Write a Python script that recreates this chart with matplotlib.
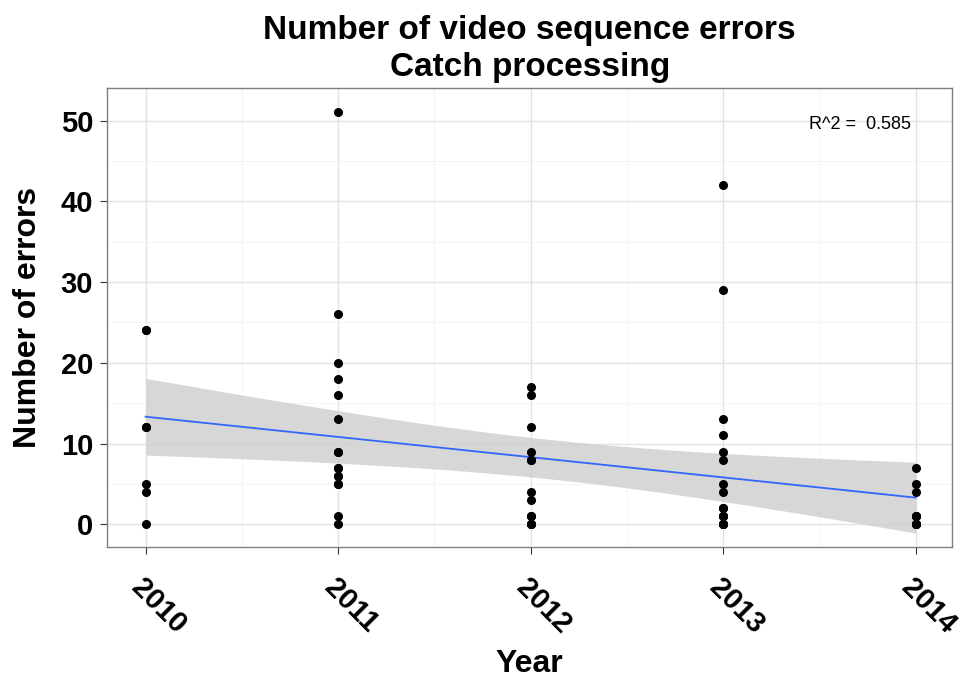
import matplotlib
matplotlib.use("Agg")
import matplotlib.pyplot as plt
import numpy as np

plt.rcParams['font.family'] = ['Liberation Sans', 'DejaVu Sans']

# errors per year (repeated values sit on top of each other)
years = [2010, 2011, 2012, 2013, 2014]
errors_2010 = [24, 24, 12, 12, 5, 4, 0]
errors_2011 = [51, 26, 20, 18, 16, 13, 9, 9, 7, 7, 6, 6, 5, 5, 1, 0]
errors_2012 = [17, 16, 12, 9, 8, 8, 4, 3, 1, 1, 0, 0, 0]
errors_2013 = [42, 29, 13, 11, 9, 8, 5, 4, 2, 2, 1, 1, 1, 0, 0, 0, 0]
errors_2014 = [7, 5, 4, 1, 1, 1, 0, 0, 0, 0]
r2_label = "R^2 =  0.585"

groups = [errors_2010, errors_2011, errors_2012, errors_2013, errors_2014]
x = np.concatenate([[yr] * len(g) for yr, g in zip(years, groups)]).astype(float)
y = np.concatenate(groups).astype(float)

# linear fit with 95% confidence band
n = len(x)
b1, b0 = np.polyfit(x, y, 1)
resid = y - (b0 + b1 * x)
s = np.sqrt(np.sum(resid ** 2) / (n - 2))
xs = np.linspace(years[0], years[-1], 80)
fit = b0 + b1 * xs
se = s * np.sqrt(1 / n + (xs - x.mean()) ** 2 / np.sum((x - x.mean()) ** 2))
t = 2.0
lo, hi = fit - t * se, fit + t * se

fig = plt.figure(figsize=(9.64, 6.79), dpi=100)
ax = fig.add_axes([0.111, 0.194, 0.877, 0.676])

ax.fill_between(xs, lo, hi, color='#d0d0d0', alpha=0.85, lw=0, zorder=2)
ax.plot(xs, fit, color='#3366ff', lw=1.3, zorder=3)
ax.plot(x, y, 'o', color='black', markersize=5.5, zorder=4)

ax.set_xlim(2009.80, 2014.19)
ax.set_ylim(-2.85, 54.0)
ax.set_xticks(years)
ax.set_xticks([2010.5, 2011.5, 2012.5, 2013.5], minor=True)
ax.set_yticks([0, 10, 20, 30, 40, 50])
ax.set_yticks([5, 15, 25, 35, 45], minor=True)
ax.grid(True, which='major', color='#e3e3e3', lw=1.0, zorder=0)
ax.grid(True, which='minor', color='#f2f2f2', lw=0.6, zorder=0)
ax.set_axisbelow(True)
for sp in ax.spines.values():
    sp.set_color('#7f7f7f')
    sp.set_linewidth(1.0)

ax.tick_params(which='major', length=5, color='#333333', labelsize=21, pad=5)
ax.tick_params(axis='x', which='major', pad=14)
ax.tick_params(which='minor', length=0)
for lab in ax.get_xticklabels() + ax.get_yticklabels():
    lab.set_fontweight('bold')
for lab in ax.get_xticklabels():
    lab.set_rotation(-45)
    lab.set_ha('left')
    lab.set_va('top')
    lab.set_rotation_mode('anchor')

ax.set_xlabel('Year', fontsize=23, fontweight='bold', labelpad=7)
ax.set_ylabel('Number of errors', fontsize=23, fontweight='bold', labelpad=13)
ax.set_title('Number of video sequence errors\nCatch processing',
             fontsize=24, fontweight='bold', pad=9, linespacing=1.25)

ax.text(2013.71, 49.5, r2_label, fontsize=13, ha='center', va='center')

fig.savefig('out.png', dpi=100)
